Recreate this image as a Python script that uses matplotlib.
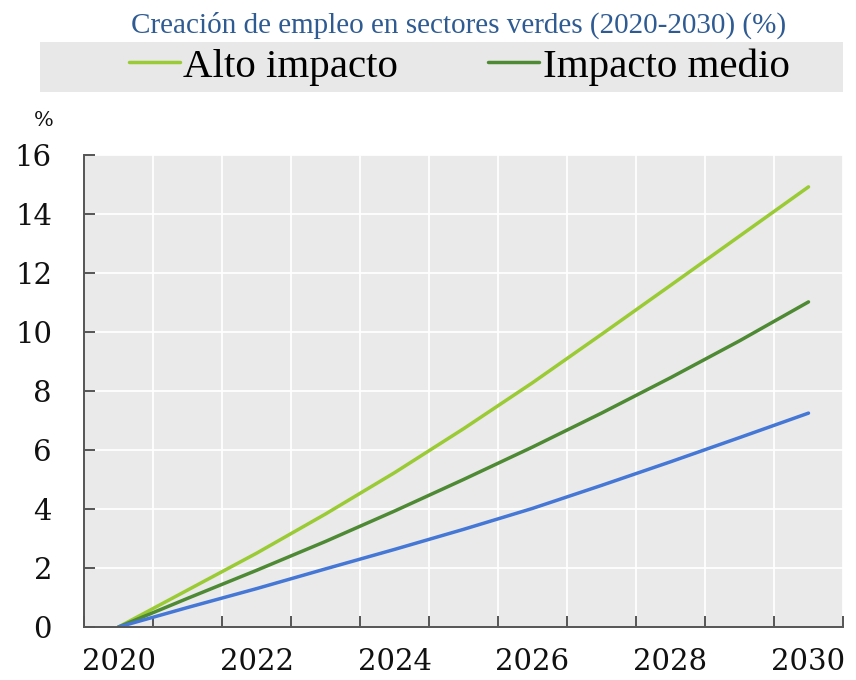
import matplotlib
matplotlib.use('Agg')
import matplotlib.pyplot as plt
from matplotlib.patches import Rectangle

# data
years = [2020, 2021, 2022, 2023, 2024, 2025, 2026, 2027, 2028, 2029, 2030]
alto = [0, 1.25, 2.5, 3.83, 5.23, 6.72, 8.28, 9.92, 11.58, 13.25, 14.92]
medio = [0, 0.97, 1.92, 2.9, 3.93, 5.0, 6.1, 7.25, 8.45, 9.7, 11.02]
bajo = [0, 0.66, 1.3, 1.97, 2.63, 3.31, 4.02, 4.8, 5.6, 6.42, 7.25]
labels = ['Alto impacto', 'Impacto medio']
title = 'Creación de empleo en sectores verdes (2020-2030) (%)'
yticks = [0, 2, 4, 6, 8, 10, 12, 14, 16]
xlabel_years = [2020, 2022, 2024, 2026, 2028, 2030]

c_alto = '#9acb34'
c_medio = '#4e8a33'
c_bajo = '#4477d6'

fig = plt.figure(figsize=(8.56, 6.8), dpi=100)
ax = fig.add_axes([84 / 856, 1 - 627 / 680, 759 / 856, 472 / 680])
ax.set_facecolor('#eaeaea')

l1, = ax.plot(years, alto, color=c_alto, lw=2.5, solid_capstyle='round')
l2, = ax.plot(years, medio, color=c_medio, lw=2.5, solid_capstyle='round')
ax.plot(years, bajo, color=c_bajo, lw=2.5, solid_capstyle='round')

ax.set_xlim(years[0] - 0.5, years[-1] + 0.5)
ax.set_ylim(0, 16)
ax.set_yticks(yticks)
ax.set_xticks(xlabel_years)
ax.set_xticks([y - 0.5 for y in years] + [years[-1] + 0.5], minor=True)

ax.grid(True, axis='y', which='major', color='white', lw=1.3)
ax.grid(True, axis='x', which='minor', color='white', lw=1.3)
ax.set_axisbelow(True)

for s in ['top', 'right']:
    ax.spines[s].set_visible(False)
for s in ['left', 'bottom']:
    ax.spines[s].set_color('#555555')
    ax.spines[s].set_linewidth(1.4)

ax.tick_params(axis='y', direction='in', length=8, width=1.4, color='#555555', pad=23)
ax.tick_params(axis='x', which='major', length=0, pad=15)
ax.tick_params(axis='x', which='minor', direction='in', length=8, width=1.4, color='#555555')
for t in ax.get_xticklabels() + ax.get_yticklabels():
    t.set_fontfamily('DejaVu Serif')
    t.set_fontsize(21)
    t.set_color('#111111')

fig.text(44 / 856, 1 - 120 / 680, '%', ha='center', va='center',
         fontsize=15, family='DejaVu Serif', color='#111111')

fig.text(459 / 856, 1 - 25 / 680, title, ha='center', va='center',
         fontsize=21, family='Liberation Serif', color='#2f5b93')

fig.patches.append(Rectangle((40 / 856, 1 - 92 / 680), 803 / 856, 50 / 680,
                             transform=fig.transFigure, facecolor='#e8e8e8',
                             edgecolor='none', zorder=0))
fig.legend([l1, l2], labels, loc='center', bbox_to_anchor=(459 / 856, 1 - 67 / 680),
           ncol=2, frameon=False, handlelength=1.25, handletextpad=0.08,
           columnspacing=2.2, prop={'family': 'Liberation Serif', 'size': 29.5})

fig.savefig('out.png', dpi=100)
